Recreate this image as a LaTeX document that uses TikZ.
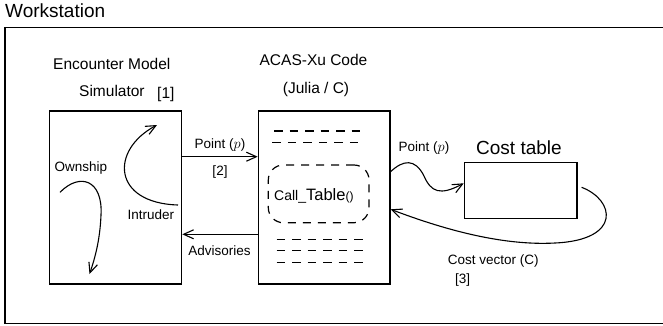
\documentclass[tikz,border=0pt]{standalone}
\usepackage{fontspec}
\setmainfont{Liberation Sans}
\usetikzlibrary{arrows.meta,calc}

\tikzset{
  box/.style={draw, line width=1.2pt, inner sep=0pt},
  txt/.style={inner sep=0pt, anchor=base west},
  txtc/.style={inner sep=0pt, anchor=base},
  big/.style={font=\fontsize{19}{22}\selectfont},
  mid/.style={font=\fontsize{15.5}{18}\selectfont},
  small/.style={font=\fontsize{13.5}{16}\selectfont},
  arr/.style={line width=1.1pt, -{Straight Barb[length=10pt,width=9pt]}},
  codeline/.style={line width=1.2pt, dash pattern=on 8.5pt off 7pt},
}

\begin{document}
\begin{tikzpicture}[x=1pt, y=-1pt]
\useasboundingbox (0,0) rectangle (663,325);

% workstation frame (runs off the right side)
\draw[line width=1.3pt] (670,27.7) -- (5,27.7) -- (5,323.3) -- (670,323.3);
\node[txt, big] (ws) at (5,17.3) {Workstation};

% encounter model simulator
\node[txt, mid] (simt1) at (53,69.5) {Encounter Model};
\node[txt, mid] (simt2) at (79,96.5) {Simulator};
\node[txt, mid] (ref1) at (157,98.4) {[1]};
\node[box, minimum width=132.4pt, minimum height=173pt] (sim) at (115.5,197.5) {};
\node[txt, small] (own) at (54.3,171.5) {Ownship};
\node[txt, small] (intr) at (127.3,219.3) {Intruder};

% ownship and intruder tracks
\coordinate (o0) at (60,192.3);
\coordinate (o1) at (101,215);
\coordinate (o2) at (89.5,274);
\draw[arr] (o0) .. controls (80,172) and (103,180) .. (o1)
                .. controls (100,240) and (95,258) .. (o2);
\coordinate (i0) at (178,205);
\coordinate (i1) at (157,125);
\draw[arr] (i0) .. controls (112,203) and (110,150) .. (i1);

% ACAS-Xu code block
\node[txtc, mid] (codet1) at (313.5,65.7) {ACAS-Xu Code};
\node[txtc, mid] (codet2) at (316,93.7) {(Julia / C)};
\node[box, minimum width=131.7pt, minimum height=173pt] (code) at (324.15,197.5) {};

% pseudo code lines
\draw[codeline] (274,131) -- (360,131);
\draw[codeline] (272.3,142.7) -- (358.3,142.7);
\draw[codeline] (276.7,239.3) -- (362.7,239.3);
\draw[codeline] (276.7,250.7) -- (362.7,250.7);
\draw[codeline] (276.7,262.3) -- (362.7,262.3);

% table call
\node[draw, line width=1.2pt, dash pattern=on 8pt off 7pt, rounded corners=15pt,
      minimum width=100.7pt, minimum height=57.7pt, inner sep=0pt] (call) at (318.65,193.85) {};
\node[txt] (callt) at (274,200)
  {\fontsize{14}{16}\selectfont Call\_\fontsize{16.5}{20}\selectfont Table\fontsize{12}{14}\selectfont ()};

% cost table
\node[txt, big] (ctt) at (476,154) {Cost table};
\node[box, minimum width=112.7pt, minimum height=56pt] (cost) at (520.65,190.3) {};

% simulator <-> code
\draw[arr] ([yshift=40.8pt]sim.east) -- ([yshift=40.8pt]code.west);
\node[txtc, small] (pt1) at (220,148.3) {Point ($p$)};
\node[txtc, small] (ref2) at (220,175) {[2]};
\draw[arr] ([yshift=-36.8pt]code.west) -- ([yshift=-36.8pt]sim.east);
\node[txtc, small] (adv) at (219.5,255.5) {Advisories};

% code <-> cost table
\draw[arr] ([yshift=25.8pt]code.east)
   .. controls (403,160) and (415,158) .. (424,176)
   .. controls (431,192) and (440,196) .. ([yshift=7pt]cost.west);
\node[txtc, small] (pt2) at (424,151.7) {Point ($p$)};
\draw[arr] ([xshift=4pt,yshift=3pt]cost.east)
   .. controls (615,200) and (622,240) .. (555,243)
   .. controls (500,246) and (440,228) .. ([yshift=-11.8pt]code.east);
\node[txt, small] (cv) at (447.7,264) {Cost vector ($\mathrm{C}$)};
\node[txt, small] (ref3) at (455,283) {[3]};
\end{tikzpicture}
\end{document}
